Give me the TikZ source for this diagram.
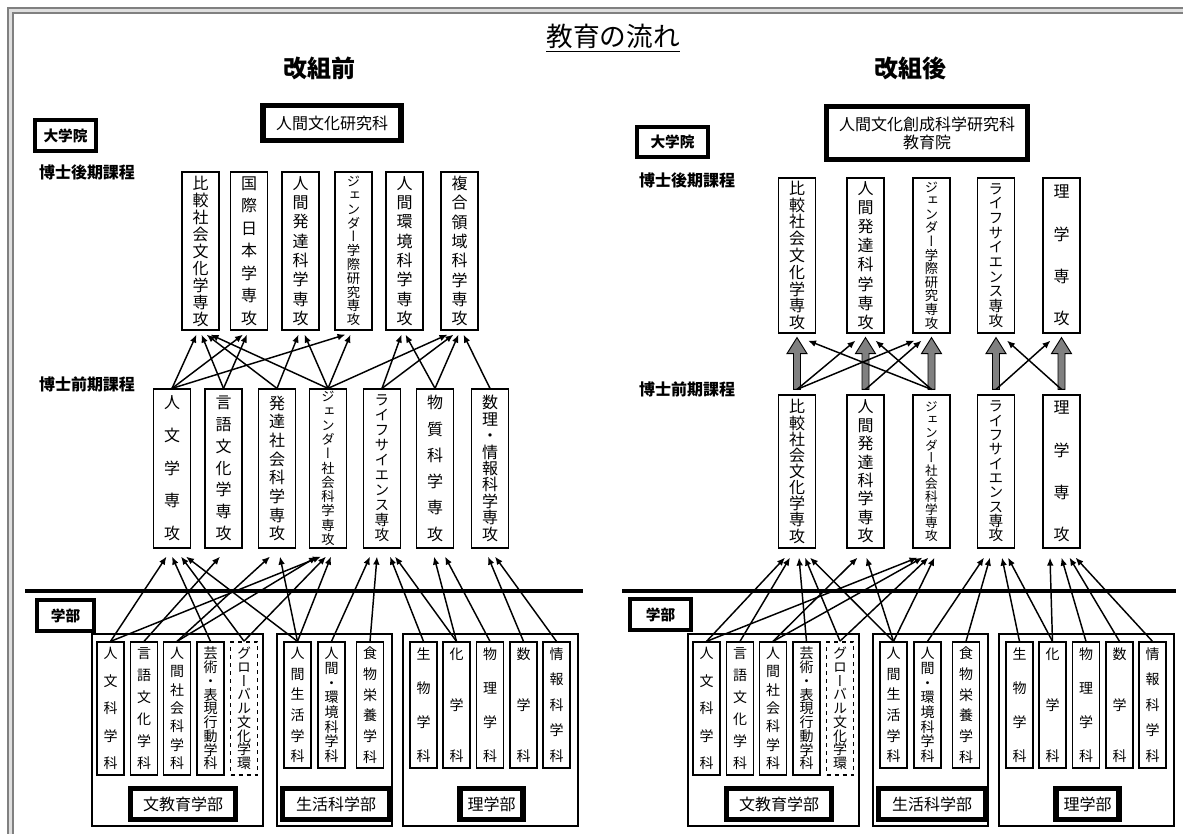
\documentclass[tikz,border=0pt]{standalone}
\usepackage{fontspec}
\setmainfont{Noto Sans CJK JP}
\newfontfamily\tate[RawFeature=+vert]{Noto Sans CJK JP}
\usepackage{tikz}
\usetikzlibrary{arrows.meta}
\AtBeginDocument{\lineskiplimit=-20pt \normallineskiplimit=-20pt}

\begin{document}
\begin{tikzpicture}[
        x=0.75pt, y=-0.75pt,
        font=\fontsize{12pt}{14pt}\selectfont,
        wh/.style 2 args={minimum width=#1*0.75pt, minimum height=#2*0.75pt},
        offx/.style={xshift=(#1)*0.75pt},
        offy/.style={yshift=-(#1)*0.75pt},
        box/.style={draw, line width=0.9pt, inner sep=0pt, align=center},
        kbox/.style={draw, line width=#1, inner sep=0pt, align=center},
        nodash/.style={},
        gdash/.style={dashed, line width=1.3pt},
        vt/.style 2 args={font=\tate\fontsize{#1pt}{#2pt}\selectfont},
        head/.style={font=\bfseries\fontsize{#1pt}{#1pt}\selectfont},
        arr/.style={-{Latex[length=6pt,width=5pt]}, line width=1.1pt},
        fat/.style={fill=gray, draw=black, line width=0.7pt}
    ]
        \useasboundingbox (0,0) rectangle (1183,834);

        % --- Marco y titulos ---
        \draw[gray, double=gray!25, double distance=2pt, line width=1.4pt]
            (10.5,834) -- (10.5,10.5) -- (1183,10.5);
        \node[font=\fontsize{20pt}{22pt}\selectfont] (title) at (613,38) {\underline{教育の流れ}};
        \node[head=18] (mae) at (319,68) {改組前};
        \node[head=18] (ato) at (910,68) {改組後};

        % --- Etiquetas de nivel ---
        \node[kbox=3pt, wh={61}{31}, head=11] (maeIn) at (65.5,135.5) {大学院};
        \node[kbox=3pt, wh={71}{30}, head=11] (atoIn) at (672.5,142) {大学院};
        \node[head=12] (maeKoki) at (87,172) {博士後期課程};
        \node[head=12] (atoKoki) at (687,180) {博士後期課程};
        \node[head=12] (maeZenki) at (87,384) {博士前期課程};
        \node[head=12] (atoZenki) at (687,389) {博士前期課程};
        \node[kbox=3pt, wh={57}{31}, head=11] (maeGb) at (65.5,615.5) {学部};
        \node[kbox=3pt, wh={61}{31}, head=11] (atoGb) at (660.5,614.5) {学部};

        % --- Kenkyuka ---
        \node[kbox=4pt, wh={138}{35}] (maeKa) at (332,123) {人間文化研究科};
        \node[kbox=4pt, wh={201}{53}, font=\fontsize{12pt}{13.5pt}\selectfont]
            (atoKa) at (927,133) {人間文化創成科学研究科\\教育院};

        % --- Linea entre posgrado y grado ---
        \draw[line width=3pt] (25,591) -- (583,591);
        \draw[line width=3pt] (622,591) -- (1176,591);

        % --- Antes: doctorado ---
        \foreach \cx/\fsz/\lsk/\tx [count=\i] in {
            200.5/12/12.75/{比\\較\\社\\会\\文\\化\\学\\専\\攻},
            249/12/16.9/{国\\際\\日\\本\\学\\専\\攻},
            300.5/12/14.5/{人\\間\\発\\達\\科\\学\\専\\攻},
            353.5/10/10.35/{ジ\\ェ\\ン\\ダ\\ー\\学\\際\\研\\究\\専\\攻},
            404.5/12/14.5/{人\\間\\環\\境\\科\\学\\専\\攻},
            459.5/12/14.5/{複\\合\\領\\域\\科\\学\\専\\攻}}
            \node[box, wh={37}{158}, vt={\fsz}{\lsk}] (maeD\i) at (\cx,251) {\tx};

        % --- Antes: maestria ---
        \foreach \cx/\fsz/\lsk/\tx [count=\i] in {
            172/12/24.5/{人\\文\\学\\専\\攻},
            223.5/12/16.4/{言\\語\\文\\化\\学\\専\\攻},
            277/12/14/{発\\達\\社\\会\\科\\学\\専\\攻},
            328/10/10.7/{ジ\\ェ\\ン\\ダ\\ー\\社\\会\\科\\学\\専\\攻},
            382/11/11.25/{ラ\\イ\\フ\\サ\\イ\\エ\\ン\\ス\\専\\攻},
            435/12/19.7/{物\\質\\科\\学\\専\\攻},
            490/12/12.3/{数\\理\\・\\情\\報\\科\\学\\専\\攻}}
            \node[box, wh={37}{159}, vt={\fsz}{\lsk}] (maeM\i) at (\cx,468.5) {\tx};

        % --- Despues: doctorado ---
        \foreach \cx/\fsz/\lsk/\tx [count=\i] in {
            797/12/12.6/{比\\較\\社\\会\\文\\化\\学\\専\\攻},
            865.5/12/14.4/{人\\間\\発\\達\\科\\学\\専\\攻},
            931.5/10/10.2/{ジ\\ェ\\ン\\ダ\\ー\\学\\際\\研\\究\\専\\攻},
            996/11/11/{ラ\\イ\\フ\\サ\\イ\\エ\\ン\\ス\\専\\攻},
            1061.5/12/31.7/{理\\学\\専\\攻}}
            \node[box, wh={37}{155}, vt={\fsz}{\lsk}] (atoD\i) at (\cx,255.5) {\tx};

        % --- Despues: maestria ---
        \foreach \cx/\fsz/\lsk/\tx [count=\i] in {
            797/12/12.1/{比\\較\\社\\会\\文\\化\\学\\専\\攻},
            865.5/12/13.8/{人\\間\\発\\達\\科\\学\\専\\攻},
            931.5/9.5/9.7/{ジ\\ェ\\ン\\ダ\\ー\\社\\会\\科\\学\\専\\攻},
            996/11/10.75/{ラ\\イ\\フ\\サ\\イ\\エ\\ン\\ス\\専\\攻},
            1061.5/12/31.75/{理\\学\\専\\攻}}
            \node[box, wh={37}{153}, vt={\fsz}{\lsk}] (atoM\i) at (\cx,471.5) {\tx};

        % --- Facultades (ambos lados) ---
        \foreach \s/\sh in {mae/0, ato/596} {
            \begin{scope}[xshift=\sh*0.75pt]
                \node[box, wh={171}{192}] (\s G1) at (177.5,730) {};
                \node[box, wh={115}{192}] (\s G2) at (334.5,730) {};
                \node[box, wh={175}{192}] (\s G3) at (490.5,730) {};
                \foreach \cx/\lsk/\st/\tx [count=\i] in {
                    110.5/20.6/nodash/{人\\文\\科\\学\\科},
                    144/16.5/nodash/{言\\語\\文\\化\\学\\科},
                    177/13.75/nodash/{人\\間\\社\\会\\科\\学\\科},
                    210.5/10.3/nodash/{芸\\術\\・\\表\\現\\行\\動\\学\\科},
                    244/10.3/gdash/{グ\\ロ\\ー\\バ\\ル\\文\\化\\学\\環}}
                    \node[box, \st, wh={27}{133}, vt={10.5}{\lsk}] (\s U\i) at (\cx,708.5) {\tx};
                \foreach \cx/\lsk/\tx [count=\i from 6] in {
                    297.5/15.5/{人\\間\\生\\活\\学\\科},
                    331.5/11/{人\\間\\・\\環\\境\\科\\学\\科},
                    370/15.5/{食\\物\\栄\\養\\学\\科},
                    423.5/25.5/{生\\物\\学\\科},
                    456.5/38.25/{化\\学\\科},
                    490/25.5/{物\\理\\学\\科},
                    523.5/38.25/{数\\学\\科},
                    556.5/19.1/{情\\報\\科\\学\\科}}
                    \node[box, wh={27}{126}, vt={10.5}{\lsk}] (\s U\i) at (\cx,705) {\tx};
                \node[kbox=4pt, wh={105}{31}] (\s N1) at (183,804) {文教育学部};
                \node[kbox=4pt, wh={107}{31}] (\s N2) at (336,804) {生活科学部};
                \node[kbox=4pt, wh={63}{31}] (\s N3) at (491.5,804) {理学部};
            \end{scope}
        }

        % --- Antes: flechas grado -> maestria ---
        \foreach \a/\b/\o in {1/1/-5.5, 1/4/-7, 2/2/-3.5, 3/3/-7, 3/4/-11, 4/1/0,
                5/1/9, 5/4/-2, 6/1/14, 6/3/3, 6/4/3, 7/5/-12, 8/5/-5, 9/5/8,
                10/5/13, 10/6/-1, 11/6/10, 12/7/-2, 13/7/5}
            \draw[arr] (maeU\a.north) -- ([offx=\o, offy=8]maeM\b.south);

        % --- Antes: flechas maestria -> doctorado ---
        \foreach \a/\b/\o in {1/1/-4, 1/2/-6, 1/4/-8, 2/1/1, 2/2/-2, 3/1/6, 3/3/-2,
                4/1/10, 4/3/4, 4/4/-3, 4/6/-12, 5/5/-3, 5/6/-6, 6/5/1, 6/6/-1, 7/6/4}
            \draw[arr] (maeM\a.north) -- ([offx=\o, offy=4]maeD\b.south);

        % --- Despues: flechas grado -> maestria ---
        \foreach \a/\b/\o in {1/1/-12, 1/3/-14, 2/1/-7, 3/2/-8, 3/3/-9, 4/1/2,
                5/1/8, 5/3/-3, 6/1/13, 6/2/1, 6/3/3, 7/4/-12, 8/4/-6, 9/4/6,
                10/4/12, 10/5/-11.5, 11/5/0, 12/5/8, 13/5/14}
            \draw[arr] (atoU\a.north) -- ([offx=\o, offy=9]atoM\b.south);

        % --- Despues: flechas gruesas maestria -> doctorado ---
        \foreach \i in {1,...,5}
            \draw[fat] ([offx=-3.5, offy=-5]atoM\i.north) -- ([offx=-3.5, offy=20]atoD\i.south)
                -- ([offx=-10, offy=20]atoD\i.south) -- ([offy=4]atoD\i.south)
                -- ([offx=10, offy=20]atoD\i.south) -- ([offx=3.5, offy=20]atoD\i.south)
                -- ([offx=3.5, offy=-5]atoM\i.north) -- cycle;

        % Cruces entre especialidades
        \foreach \a/\b/\o in {1/2/-10, 1/3/-17, 2/3/-10, 3/1/11, 3/2/10, 4/5/-11, 5/4/11}
            \draw[arr] ([offy=-5]atoM\a.north) -- ([offx=\o, offy=7]atoD\b.south);

    \end{tikzpicture}
\end{document}
